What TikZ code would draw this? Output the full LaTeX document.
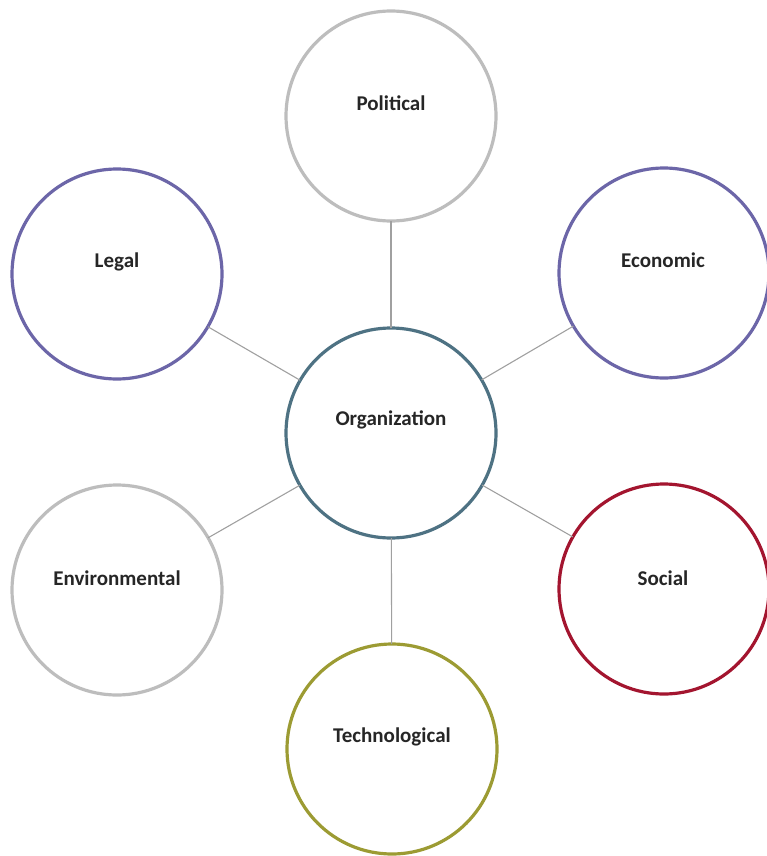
\documentclass[tikz,border=0pt]{standalone}
\usepackage{fontspec}
\setmainfont{Carlito}
\definecolor{cgray}{HTML}{BDBDBD}
\definecolor{cpurple}{HTML}{6C66A8}
\definecolor{cteal}{HTML}{4E7283}
\definecolor{cred}{HTML}{A3152F}
\definecolor{colive}{HTML}{9C9B33}
\definecolor{clink}{HTML}{A0A0A0}
\begin{document}
\begin{tikzpicture}[x=1pt,y=-1pt,
  bubble/.style={circle, draw=#1, line width=3.2pt, fill=white, minimum size=210pt, inner sep=0pt, outer sep=0pt},
  lbl/.style={font=\bfseries\fontsize{21}{25}\selectfont, text=black!85},
  link/.style={draw=clink, line width=1.1pt}]
\useasboundingbox (0,0) rectangle (766,856);
\node[bubble=cteal] (org) at (391,433) {};
\node[bubble=cgray] (pol) at (391,116) {};
\node[bubble=cpurple] (leg) at (117,274) {};
\node[bubble=cpurple] (eco) at (664,273) {};
\node[bubble=cgray] (env) at (117,590) {};
\node[bubble=cred] (soc) at (664,589) {};
\node[bubble=colive] (tec) at (392,749) {};
\draw[link] (org) -- (pol);
\draw[link] (org) -- (leg);
\draw[link] (org) -- (eco);
\draw[link] (org) -- (env);
\draw[link] (org) -- (soc);
\draw[link] (org) -- (tec);
\node[lbl] (torg) at (391,420) {Organization};
\node[lbl] (tpol) at (391,103) {Political};
\node[lbl] (tleg) at (117,262) {Legal};
\node[lbl] (teco) at (663,260) {Economic};
\node[lbl] (tenv) at (117,578) {Environmental};
\node[lbl] (tsoc) at (663,578) {Social};
\node[lbl] (ttec) at (392,737) {Technological};
\end{tikzpicture}
\end{document}
